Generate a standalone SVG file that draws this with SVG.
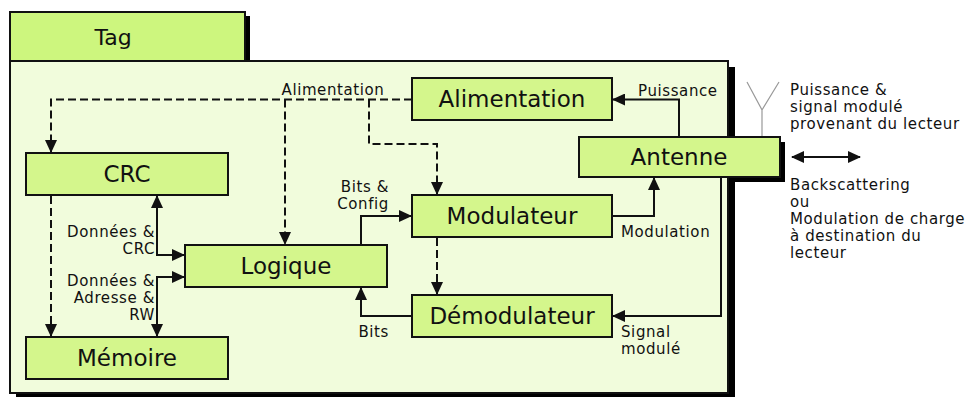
<svg xmlns="http://www.w3.org/2000/svg" width="973" height="397" viewBox="0 0 973 397">
<style>
.box{fill:#d4f68c;stroke:#111;stroke-width:2}
.sh{fill:#000}
.bl{font-family:"DejaVu Sans","Noto Sans",sans-serif;font-size:23px;fill:#111;text-anchor:middle}
.lb{font-family:"DejaVu Sans","Noto Sans",sans-serif;font-size:15px;letter-spacing:0.6px;fill:#111}
.e{text-anchor:end}
.c{text-anchor:middle}
.ln{fill:none;stroke:#111;stroke-width:2}
.d{stroke-dasharray:8,4}
</style>
<defs>
<marker id="ar" markerUnits="userSpaceOnUse" markerWidth="14" markerHeight="12" refX="12" refY="6" orient="auto-start-reverse">
<path d="M0,0 L13,6 L0,12 z" fill="#111"/>
</marker>
</defs>
<g id="tag">
<rect x="15" y="16" width="235" height="46" class="sh"/>
<rect x="10" y="12" width="235" height="49" fill="#cdf67e" stroke="#111" stroke-width="2"/>
<text x="113" y="45" class="bl" style="font-size:22px">Tag</text>
</g>
<g id="container">
<rect x="16" y="67" width="719" height="330" class="sh"/>
<rect x="10" y="61" width="718" height="332" fill="#f1fcdc" stroke="#111" stroke-width="2"/>
</g>
<g id="crc"><rect x="26" y="153" width="202" height="42" class="box"/><text x="127" y="182" class="bl">CRC</text></g>
<g id="memoire"><rect x="26" y="337" width="202" height="42" class="box"/><text x="127" y="366" class="bl">Mémoire</text></g>
<g id="logique"><rect x="185" y="245" width="202" height="42" class="box"/><text x="286" y="274" class="bl">Logique</text></g>
<g id="alimentation"><rect x="412" y="78" width="200" height="42" class="box"/><text x="512" y="107" class="bl">Alimentation</text></g>
<g id="modulateur"><rect x="412" y="195" width="200" height="42" class="box"/><text x="512" y="224" class="bl">Modulateur</text></g>
<g id="demodulateur"><rect x="412" y="295" width="200" height="42" class="box"/><text x="512" y="324" class="bl">Démodulateur</text></g>
<g id="antenne">
<rect x="729" y="142" width="56" height="40" class="sh"/>
<rect x="579" y="137" width="201" height="40" class="box"/>
<text x="679" y="165" class="bl">Antenne</text>
<g stroke="#999" stroke-width="1.2" fill="none"><path d="M762,136 V110 L747,82 M762,110 L779,82"/></g>
</g>
<g id="connectors">
<path class="ln d" d="M412,99.5 H51 V152" marker-end="url(#ar)"/>
<path class="ln d" d="M285,99.5 V244" marker-end="url(#ar)"/>
<path class="ln d" d="M369,99.5 V144 H437 V194" marker-end="url(#ar)"/>
<path class="ln d" d="M437,238 V294" marker-end="url(#ar)"/>
<path class="ln d" d="M51,196 V336" marker-end="url(#ar)"/>
<path class="ln" d="M679,137 V99.5 H613" marker-end="url(#ar)"/>
<path class="ln" d="M612,216 H654 V178" marker-end="url(#ar)"/>
<path class="ln" d="M721,177 V316 H613" marker-end="url(#ar)"/>
<path class="ln" d="M412,316 H361 V288" marker-end="url(#ar)"/>
<path class="ln" d="M361,245 V216 H411" marker-end="url(#ar)"/>
<path class="ln" d="M157,196 V255 H184" marker-start="url(#ar)" marker-end="url(#ar)"/>
<path class="ln" d="M184,277 H157 V336" marker-start="url(#ar)" marker-end="url(#ar)"/>
<path class="ln" d="M792,157 H860" marker-start="url(#ar)" marker-end="url(#ar)"/>
</g>
<g id="labels">
<text x="333" y="95" class="lb c">Alimentation</text>
<text x="638" y="96" class="lb">Puissance</text>
<text x="389" y="192" class="lb e">Bits &amp;</text>
<text x="389" y="209" class="lb e">Config</text>
<text x="621" y="237" class="lb">Modulation</text>
<text x="621" y="337" class="lb">Signal</text>
<text x="621" y="354" class="lb">modulé</text>
<text x="389" y="337" class="lb e">Bits</text>
<text x="155" y="237" class="lb e">Données &amp;</text>
<text x="155" y="254" class="lb e">CRC</text>
<text x="155" y="286" class="lb e">Données &amp;</text>
<text x="155" y="303" class="lb e">Adresse &amp;</text>
<text x="155" y="320" class="lb e">RW</text>
<text x="790" y="95" class="lb">Puissance &amp;</text>
<text x="790" y="112" class="lb">signal modulé</text>
<text x="790" y="129" class="lb">provenant du lecteur</text>
<text x="790" y="190" class="lb">Backscattering</text>
<text x="790" y="207" class="lb">ou</text>
<text x="790" y="224" class="lb">Modulation de charge</text>
<text x="790" y="241" class="lb">à destination du</text>
<text x="790" y="258" class="lb">lecteur</text>
</g>
</svg>
